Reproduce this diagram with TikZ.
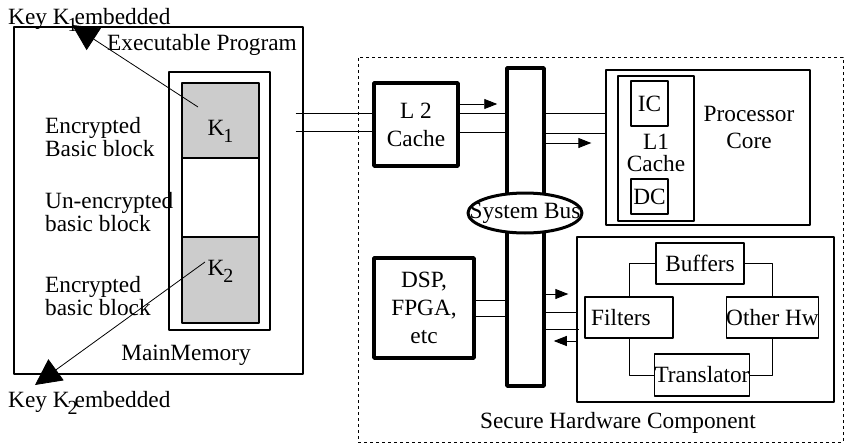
\documentclass[tikz,border=0pt]{standalone}
\usepackage{fontspec}
\setmainfont{Liberation Serif}
\usetikzlibrary{arrows.meta,shapes.geometric,calc}
\newcommand{\ksub}[1]{K\kern-1pt\raisebox{-7pt}{\fontsize{20}{20}\selectfont#1}}
\newcommand{\keyname}[1]{Key K\kern-2pt\raisebox{-7pt}{\fontsize{20}{20}\selectfont#1}\kern-3pt embedded}

\begin{document}
\begin{tikzpicture}[x=1pt, y=-1pt, font=\fontsize{23.3}{23}\selectfont, line join=round,
    every node/.style={inner sep=0pt},
    box/.style={draw, line width=1.4pt},
    thickbox/.style={draw, line width=3.5pt, align=center, font=\fontsize{23.3}{28}\selectfont},
    wire/.style={line width=0.9pt},
    conn/.style={line width=0.9pt, -{Triangle[length=13pt,width=10pt]}},
    keyarrow/.style={line width=0.8pt, -{Triangle[length=26pt,width=26pt]}},
    txt/.style={align=left}]
    \useasboundingbox (0,0) rectangle (845,444);
    %\draw[help lines, step=50] (0,0) grid (845,444);
    % program in main memory
    \node[box, minimum width=289pt, minimum height=347pt] (exec) at (158.5,200.5) {};
    \node[box, minimum width=101pt, minimum height=258pt] (mem) at (219.5,201) {};
    \node[box, fill=gray!40, minimum width=77pt, minimum height=75pt,
        label={[yshift=-10.5pt]center:\ksub{1}}] (k1) at (220.5,120.5) {};
    \node[box, fill=white, minimum width=77pt, minimum height=79pt] (plain) at (220.5,197.5) {};
    \node[box, fill=gray!40, minimum width=77pt, minimum height=86pt,
        label={[yshift=9pt]center:\ksub{2}}] (k2) at (220.5,280) {};
    \node (title) at (202,45) {Executable Program};
    \node (memname) at (186,355) {MainMemory};
    \node[txt, anchor=west] (enc1) at (45,137) {Encrypted\\Basic block};
    \node[txt, anchor=west] (unenc) at (45,212.5) {Un-encrypted\\basic block};
    \node[txt, anchor=west] (enc2) at (45,296) {Encrypted\\basic block};
    \node[anchor=base west] (key1) at (8,25) {\keyname{1}};
    \node[anchor=base west] (key2) at (8,407) {\keyname{2}};
    \coordinate (k1in) at (198,107);
    \coordinate (k1tip) at (72,25);
    \coordinate (k2in) at (205,262);
    \coordinate (k2tip) at (35,385);
    \draw[keyarrow] (k1in) -- (k1tip);
    \draw[keyarrow] (k2in) -- (k2tip);

    % secure hardware
    \node[draw, dashed, line width=0.8pt, minimum width=485pt, minimum height=385pt] (secure) at (600.5,249.5) {};
    \node (hwname) at (618,423) {Secure Hardware Component};
    \node[thickbox, minimum width=84pt, minimum height=83pt] (l2) at (416,124.5) {L 2\\Cache};
    \node[thickbox, minimum width=100pt, minimum height=100pt] (dsp) at (424,308) {DSP,\\FPGA,\\etc};
    \node[thickbox, minimum width=37pt, minimum height=318pt] (bus) at (525.5,227) {};
    \node[draw, ellipse, line width=3pt, fill=white, minimum width=114pt, minimum height=40pt,
        label=center:System Bus] (busname) at (525,213) {};

    \node[box, minimum width=204pt, minimum height=155pt] (proc) at (708,147.5) {};
    \node[box, minimum width=76pt, minimum height=145pt] (l1) at (656,148.5) {};
    \node[box, minimum width=37pt, minimum height=45pt] (ic) at (649.5,103.5) {IC};
    \node[box, minimum width=37pt, minimum height=35pt] (dc) at (649.5,196.5) {DC};
    \node[align=center, font=\fontsize{23.3}{22}\selectfont] (l1name) at (656,153) {L1\\Cache};
    \node[align=center, font=\fontsize{23.3}{27}\selectfont] (procname) at (749,127) {Processor\\Core};

    \node[box, minimum width=257pt, minimum height=165pt] (hw) at (705.5,319.5) {};
    \node[box, minimum width=88pt, minimum height=41pt] (buffers) at (700,263.5) {Buffers};
    \node[box, minimum width=88pt, minimum height=41pt,
        label={[xshift=-8pt]center:Filters}] (filters) at (629,317.5) {};
    \node[box, minimum width=89pt, minimum height=41pt] (otherhw) at (772.5,317.5) {Other Hw};
    \node[box, minimum width=90pt, minimum height=42pt] (transl) at (702,375) {Translator};
    \draw[wire] (buffers.west) -| (filters.north);
    \draw[wire] (buffers.east) -| (otherhw.north);
    \draw[wire] (filters.south) |- (transl.west);
    \draw[wire] (transl.east) -| (otherhw.south);

    % links
    \foreach \y in {113,131}
        \draw[wire] ($(exec.east |- 0,\y)+(-8,0)$) -- (l2.west |- 0,\y);
    \draw[conn] (l2.east |- 0,104) -- ($(bus.west |- 0,104)+(-8,0)$);
    \foreach \y in {113,132}
        \draw[wire] (l2.east |- 0,\y) -- (bus.west |- 0,\y);
    \foreach \y in {113,133}
        \draw[wire] (bus.east |- 0,\y) -- (proc.west |- 0,\y);
    \draw[conn] (bus.east |- 0,143) -- ($(proc.west |- 0,143)+(-14,0)$);
    \foreach \y in {300,316}
        \draw[wire] (dsp.east |- 0,\y) -- (bus.west |- 0,\y);
    \draw[conn] (bus.east |- 0,294) -- ($(hw.west |- 0,294)+(-8,0)$);
    \draw[wire] (bus.east |- 0,312) -- (hw.west |- 0,312);
    \draw[wire] (bus.east |- 0,329) -- ($(hw.west |- 0,329)+(3,0)$);
    \draw[conn] (hw.west |- 0,341) -- ($(bus.east |- 0,341)+(8,0)$);
\end{tikzpicture}
\end{document}
